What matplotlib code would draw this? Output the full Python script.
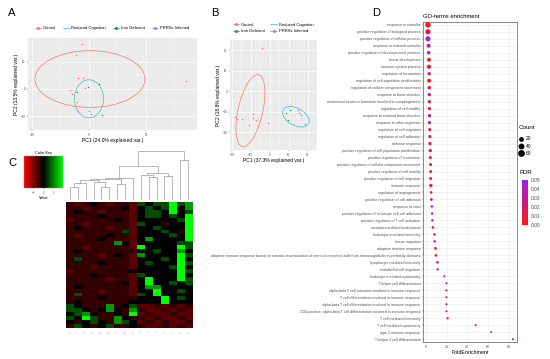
import numpy as np
import matplotlib
matplotlib.use("Agg")
import matplotlib.pyplot as plt
from matplotlib.patches import Ellipse
from matplotlib.lines import Line2D
from matplotlib.colors import LinearSegmentedColormap, Normalize
import matplotlib.cm as cm

plt.rcParams['font.family'] = ['Liberation Sans', 'DejaVu Sans']

W, H = 550, 359
def fx(px): return px / W
def fy(py): return 1 - py / H

# ---------------- groups ----------------
group_names = ["Control", "Reduced Cognition", "Iron Deficient", "PRRSv Infected"]
group_colors = ["#F8766D", "#3DBFB8", "#1E9E3E", "#A77BF0"]

# ---------------- Panel A data ----------------
a_ctrl_x = [-2.5, -4.6, -3.9, -2.2, -6.7, -6.0, -1.4, 34.0, -4.2]
a_ctrl_y = [16.4, 12.5, 3.9, 3.9, -0.4, -1.7, 0.3, 2.9, -4.6]
a_iron_x = [-0.4, 3.5, -4.2, 4.5]
a_iron_y = [0.8, 1.8, -1.1, -9.6]
a_prrs_x = [-3.9, 0.0, 0.7]
a_prrs_y = [-8.2, -8.2, -9.3]
# ellipses: centre x, centre y, width, height, angle
a_ell_ctrl = [0.35, 3.6, 38.6, 20.7, 0]
a_ell_red = [0.0, -3.6, 10.2, 13.9, 0]
a_xticks = [-20, 0, 20]
a_yticks = [-10, 0, 10]

# ---------------- Panel B data ----------------
b_ctrl_x = [-4.3, -18.1, -17.1, -14.8, -11.0, -8.6, -7.1, -9.0, -1.0]
b_ctrl_y = [21.0, -12.4, -13.3, -13.3, -16.2, -11.0, -13.8, -12.9, -15.2]
b_iron_x = [8.6, 9.5, 10.5]
b_iron_y = [-10.5, -13.8, -9.0]
b_prrs_x = [14.8, 15.7, 16.7, 18.6]
b_prrs_y = [-9.0, -10.5, -11.4, -15.7]
b_ell_ctrl = [-10.2, -9.4, 36.0, 13.0, 76]
b_ell_red = [13.8, -12.4, 15.0, 8.5, -25]
b_xticks = [-20, -10, 0, 10, 20]
b_yticks = [-20, -10, 0, 10, 20]

# ---------------- Panel C data ----------------
heat_rows = [
    "rRr.rRrrR" + "g.ggBgG",
    "rrRrrrr.R" + ".g.gB.G",
    "r.rrRrrrR" + ".gg.B.g",
    "rrrr.rrrR" + ".gg.g.B",
    "Rrrrrr.rR" + ".....gB",
    "rrRrrrrrR" + "g..r..B",
    "r.rrrRrrR" + "..g...B",
    "rrrrrrrgR" + "...g.rB",
    "rRrrr.rrR" + "....g.B",
    "rrrr.rrrR" + ".G....B",
    "rrrrrrG.R" + ".....gg",
    "rrRrrrrrR" + "B....Bg",
    "r.rrrrrrr" + "..g..G.",
    "rrrrRr.rR" + "G....Bg",
    "rgrrrrrrR" + "...g.B.",
    "rrrr.rrrR" + ".g...Bg",
    "rrrRrrrrR" + "....gB.",
    "Rrrrrrrr." + ".....Bg",
    "rrr.rrrrR" + "g....B.",
    "rrrrrRrrR" + ".B...Bg",
    "rrrrrrr.R" + ".B..g.g",
    "r.rrrrrrR" + ".GG....",
    "rrrrRrrrR" + "..B..g.",
    "rgrrrrrrR" + "g.B....",
    "rrrr.rrrr" + "...B.g.",
    "r.rrrrrr." + "...B...",
    "g.rrrGr.g" + "RRrRrRr",
    "gg.r.G.rG" + "rRRrRrR",
    ".gG.rr.rB" + "RrRRrRR",
    "g.BgrrG.r" + "rRrRRrR",
    ".r.g.rGg." + "RrRrRRr",
    "rg.r.grr." + "rRRrRrR",
]
heat_levels = {"R": -0.7, "r": -0.4, ".": 0.0, "g": 0.6, "G": 1.2, "B": 2.0}
heat_col_groups = [0] * 9 + [2] * 3 + [3] * 4
heat_col_labels = ["C%d" % i for i in range(1, 10)] + ["I%d" % i for i in range(1, 4)] + ["P%d" % i for i in range(1, 5)]
# dendrogram merges: (left node, right node, height); leaves 0..15, new nodes from 16
dendro_merges = [
    (0, 1, 38), (16, 2, 50), (4, 5, 40), (3, 18, 55), (17, 19, 60),
    (6, 7, 48), (20, 21, 64), (22, 8, 67), (10, 11, 70), (9, 24, 76),
    (12, 13, 73), (25, 26, 82), (23, 27, 102), (14, 15, 120), (28, 29, 145),
]
key_ticks = [-1, 0, 1]

# ---------------- Panel D data ----------------
go_terms = [
    "response to stimulus",
    "positive regulation of biological process",
    "positive regulation of cellular process",
    "response to external stimulus",
    "positive regulation of developmental process",
    "tissue development",
    "immune system process",
    "regulation of locomotion",
    "regulation of cell population proliferation",
    "regulation of cellular component movement",
    "response to biotic stimulus",
    "anatomical structure formation involved in morphogenesis",
    "regulation of cell motility",
    "response to external biotic stimulus",
    "response to other organism",
    "regulation of cell migration",
    "regulation of cell adhesion",
    "defense response",
    "positive regulation of cell population proliferation",
    "positive regulation of locomotion",
    "positive regulation of cellular component movement",
    "positive regulation of cell motility",
    "positive regulation of cell migration",
    "immune response",
    "regulation of angiogenesis",
    "positive regulation of cell adhesion",
    "response to virus",
    "positive regulation of leukocyte cell-cell adhesion",
    "positive regulation of T cell activation",
    "receptor-mediated endocytosis",
    "leukocyte mediated immunity",
    "tissue migration",
    "adaptive immune response",
    "adaptive immune response based on somatic recombination of immune receptors built from immunoglobulin superfamily domains",
    "lymphocyte mediated immunity",
    "endothelial cell migration",
    "leukocyte mediated cytotoxicity",
    "T-helper cell differentiation",
    "alpha-beta T cell activation involved in immune response",
    "T cell differentiation involved in immune response",
    "alpha-beta T cell differentiation involved in immune response",
    "CD4-positive, alpha-beta T cell differentiation involved in immune response",
    "T cell mediated immunity",
    "T cell mediated cytotoxicity",
    "type 2 immune response",
    "T-helper 2 cell differentiation",
]
go_fold = [1.9, 1.9, 1.9, 2.5, 2.6, 2.9, 2.9, 3.1, 3.1, 3.2, 3.2, 3.3, 3.3, 3.4, 3.4,
           3.6, 3.8, 3.8, 4.1, 4.2, 4.4, 4.5, 4.5, 4.7, 4.9, 5.2, 5.7, 5.9, 6.2, 6.7,
           8.2, 8.3, 9.2, 9.6, 11.1, 11.3, 17.6, 19.8, 19.8, 19.8, 19.8, 19.8, 20.9,
           48.0, 63.0, 84.0]
go_count = [65, 60, 55, 30, 22, 30, 35, 20, 30, 22, 20, 18, 18, 18, 18, 17, 18, 20,
            20, 15, 15, 14, 14, 22, 10, 12, 9, 8, 8, 9, 10, 8, 12, 10, 10, 7, 4, 4,
            4, 4, 4, 4, 6, 4, 3, 3]
go_fdr = [0.003, 0.015, 0.045, 0.035, 0.045, 0.005, 0.008, 0.02, 0.005, 0.01, 0.03,
          0.008, 0.01, 0.03, 0.03, 0.008, 0.008, 0.01, 0.004, 0.006, 0.006, 0.006,
          0.006, 0.004, 0.03, 0.008, 0.045, 0.045, 0.04, 0.02, 0.005, 0.04, 0.004,
          0.003, 0.004, 0.04, 0.045, 0.03, 0.03, 0.03, 0.03, 0.03, 0.005, 0.005,
          0.04, 0.03]
count_legend = [20, 40, 60]
fdr_ticks = [0.00, 0.01, 0.02, 0.03, 0.04, 0.05]

# ================= figure =================
fig = plt.figure(figsize=(W / 100, H / 100), dpi=100)

def size_of(c):
    return 1.5 + 0.22 * np.asarray(c, dtype=float)

def gg_axes(ax):
    ax.set_facecolor("#EBEBEB")
    for s in ax.spines.values():
        s.set_visible(False)
    ax.grid(True, which="major", color="white", lw=0.5)
    ax.grid(True, which="minor", color="white", lw=0.25)
    ax.set_axisbelow(True)
    ax.tick_params(which="major", labelsize=2.2, length=1, width=0.3, pad=0.8,
                   color="#333333", labelcolor="#4D4D4D")
    ax.tick_params(which="minor", length=0)

def pca_panel(ax, cx, cy, ix, iy, px_, py_, ell1, ell2, xt, yt, xlim, ylim, xl, yl):
    gg_axes(ax)
    ax.set_xlim(*xlim)
    ax.set_ylim(*ylim)
    ax.set_xticks(xt)
    ax.set_yticks(yt)
    ax.set_xticks([(xt[i] + xt[i + 1]) / 2 for i in range(len(xt) - 1)] + [xt[-1] + (xt[1] - xt[0]) / 2], minor=True)
    ax.set_yticks([yt[0] - (yt[1] - yt[0]) / 2] + [(yt[i] + yt[i + 1]) / 2 for i in range(len(yt) - 1)] + [yt[-1] + (yt[1] - yt[0]) / 2], minor=True)
    for e, c in ((ell1, group_colors[0]), (ell2, group_colors[1])):
        ax.add_patch(Ellipse((e[0], e[1]), e[2], e[3], angle=e[4], fill=False,
                             edgecolor=c, lw=0.5))
    ax.scatter(cx, cy, s=1.2, color=group_colors[0], lw=0)
    ax.scatter(ix, iy, s=1.2, color=group_colors[2], lw=0)
    ax.scatter(px_, py_, s=1.2, color=group_colors[3], lw=0)
    ax.set_xlabel(xl, fontsize=3.6, labelpad=1)
    ax.set_ylabel(yl, fontsize=3.6, labelpad=1)

def legend_handles():
    hs = []
    for i, c in enumerate(group_colors):
        hs.append(Line2D([0], [0], color=c, lw=0.5,
                         marker=None if i == 1 else "o", markersize=1.2))
    return hs

# ---- Panel A ----
axA = fig.add_axes([fx(28), fy(130), 169 / W, 92 / H])
pca_panel(axA, a_ctrl_x, a_ctrl_y, a_iron_x, a_iron_y, a_prrs_x, a_prrs_y,
          a_ell_ctrl, a_ell_red, a_xticks, a_yticks, (-21.4, 37.9), (-14.3, 18.6),
          "PC1 (24.0% explained var.)", "PC2 (13.5% explained var.)")
fig.legend(legend_handles(), group_names, loc="center", bbox_to_anchor=(fx(112), fy(28)),
           ncol=4, fontsize=3, frameon=False, handlelength=1.6, columnspacing=1.6,
           handletextpad=0.4)
fig.text(fx(8), fy(13), "A", fontsize=8, va="center")

# ---- Panel B ----
axB = fig.add_axes([fx(230), fy(150), 87 / W, 110 / H])
pca_panel(axB, b_ctrl_x, b_ctrl_y, b_iron_x, b_iron_y, b_prrs_x, b_prrs_y,
          b_ell_ctrl, b_ell_red, b_xticks, b_yticks, (-21.0, 20.5), (-28.6, 23.8),
          "PC1 (37.3% explained var.)", "PC2 (18.8% explained var.)")
hb = legend_handles()
order = [0, 2, 1, 3]
fig.legend([hb[i] for i in order], [group_names[i] for i in order], loc="center",
           bbox_to_anchor=(fx(273), fy(28)), ncol=2, fontsize=3, frameon=False,
           handlelength=1.6, columnspacing=1.2, handletextpad=0.4, labelspacing=0.6)
fig.text(fx(211), fy(13), "B", fontsize=8, va="center")

# ---- Panel C ----
rg_cmap = LinearSegmentedColormap.from_list("rg", [(1, 0, 0), (0, 0, 0), (0, 1, 0)])
mat = np.array([[heat_levels[ch] for ch in row] for row in heat_rows])
nrow, ncol = mat.shape

axH = fig.add_axes([fx(66), fy(328), 126 / W, 126 / H])
axH.imshow(mat, cmap=rg_cmap, vmin=-2, vmax=2, aspect="auto", interpolation="nearest",
           extent=(0, ncol, nrow, 0))
for s in axH.spines.values():
    s.set_visible(False)
axH.set_yticks([])
axH.set_xticks(np.arange(ncol) + 0.5)
axH.set_xticklabels(heat_col_labels, fontsize=1.6, rotation=90)
for t, g in zip(axH.get_xticklabels(), heat_col_groups):
    t.set_color(group_colors[g])
axH.tick_params(axis="x", length=0, pad=1.5)

axDen = fig.add_axes([fx(66), fy(200), 126 / W, 49 / H])
pos = {i: i + 0.5 for i in range(ncol)}
hgt = {i: 0.0 for i in range(ncol)}
nid = ncol
for l, r, h in dendro_merges:
    xl_, xr_ = pos[l], pos[r]
    axDen.plot([xl_, xl_, xr_, xr_], [hgt[l], h, h, hgt[r]], color="#9A9A9A", lw=0.5)
    pos[nid] = (xl_ + xr_) / 2
    hgt[nid] = h
    nid += 1
axDen.set_xlim(0, ncol)
axDen.set_ylim(0, max(m[2] for m in dendro_merges) * 1.01)
axDen.axis("off")

axK = fig.add_axes([fx(24), fy(188), 39 / W, 32 / H])
axK.imshow(np.linspace(-2, 2, 256)[None, :], cmap=rg_cmap, vmin=-2, vmax=2,
           aspect="auto", extent=(-2, 2, 0, 1))
axK.set_yticks([])
axK.set_xticks(key_ticks)
axK.tick_params(labelsize=2, length=1, width=0.3, pad=0.8, color="#555555", labelcolor="#555555")
for s in axK.spines.values():
    s.set_linewidth(0.3)
    s.set_color("#888888")
axK.set_title("Color Key", fontsize=2.8, pad=1.2)
axK.set_xlabel("Value", fontsize=2.8, labelpad=0.8)
fig.text(fx(8), fy(163), "C", fontsize=8, va="center")

# ---- Panel D ----
fdr_cmap = LinearSegmentedColormap.from_list("fdr", ["#FF1A1A", "#D0197A", "#A020F0"])
axD = fig.add_axes([fx(423), fy(342), 94 / W, 320 / H])
yy = np.arange(len(go_terms))
axD.scatter(go_fold, yy, s=size_of(go_count), c=go_fdr, cmap=fdr_cmap, vmin=0, vmax=0.05,
            lw=0, zorder=3)
axD.set_ylim(len(go_terms) - 0.6, -0.4)
axD.set_xlim(-2.9, 88)
axD.set_yticks(yy)
axD.set_yticklabels(go_terms, fontsize=2.65, color="#4D4D4D")
axD.set_xticks([0, 20, 40, 60, 80])
axD.set_xticks([10, 30, 50, 70], minor=True)
axD.grid(True, which="major", color="#EBEBEB", lw=0.4)
axD.grid(True, which="minor", axis="x", color="#F4F4F4", lw=0.25)
axD.set_axisbelow(True)
axD.tick_params(which="major", labelsize=2.65, length=1, width=0.3, pad=0.8,
                color="#333333", labelcolor="#4D4D4D")
axD.tick_params(which="minor", length=0)
for s in axD.spines.values():
    s.set_linewidth(0.4)
    s.set_color("#333333")
axD.set_xlabel("FoldEnrichment", fontsize=3.8, labelpad=1)
fig.text(fx(423), fy(16), "GO-terms enrichment", fontsize=4.2, va="center")
fig.text(fx(372), fy(13), "D", fontsize=8, va="center")

# count legend
fig.text(fx(519), fy(128), "Count", fontsize=4.5, va="center")
ch = [Line2D([0], [0], ls="none", marker="o", color="black",
             markersize=float(np.sqrt(size_of(c)))) for c in count_legend]
fig.legend(ch, [str(c) for c in count_legend], loc="upper left",
           bbox_to_anchor=(fx(515), fy(133)), fontsize=3.5, frameon=False,
           handlelength=1.0, handletextpad=0.5, labelspacing=0.45, borderpad=0.2)

# FDR colorbar
fig.text(fx(520), fy(172), "FDR", fontsize=4.5, va="center")
axC = fig.add_axes([fx(522), fy(225), 6 / W, 45 / H])
cb = fig.colorbar(cm.ScalarMappable(norm=Normalize(0, 0.05), cmap=fdr_cmap), cax=axC)
cb.set_ticks(fdr_ticks)
cb.set_ticklabels(["%.2f" % t for t in fdr_ticks])
cb.outline.set_visible(False)
axC.tick_params(labelsize=3.5, length=1.5, width=0.3, color="white", pad=0.8,
                labelcolor="#4D4D4D")

fig.savefig("out.png", dpi=100)
